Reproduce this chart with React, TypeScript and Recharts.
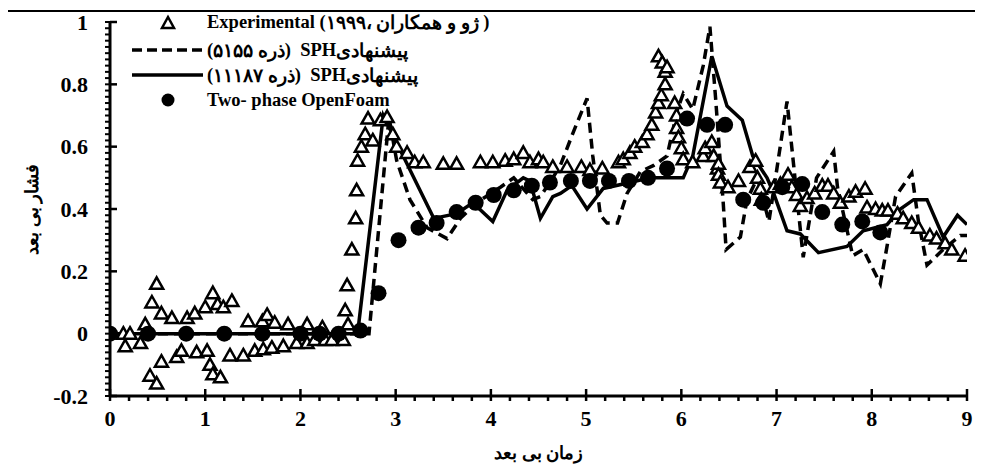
import React from 'react';
import { ComposedChart, Line, Scatter, XAxis, YAxis, Legend } from 'recharts';

const FONT = "'Liberation Serif', 'Times New Roman', serif";

// Axis tick labels
const xTickLabels = [0, 1, 2, 3, 4, 5, 6, 7, 8, 9];
const yTickLabels = [-0.2, 0, 0.2, 0.4, 0.6, 0.8, 1];
const X_MINOR = 0.2;
const Y_MINOR = 0.02;

const xTitle = 'زمان بی بعد';
const yTitle = 'فشار بی بعد';

// Legend labels, split into display pieces (left to right)
const legendLabels: string[][] = [
  ['Experimental', ' (', '۱۹۹۹', '،', ' ', 'ژو و همکاران', ' )'],
  ['(', '۵۱۵۵', ' ', 'ذره', ')', '  ', 'SPH', 'پیشنهادی'],
  ['(', '۱۱۱۸۷', ' ', 'ذره', ')', '  ', 'SPH', 'پیشنهادی'],
  ['Two- phase OpenFoam'],
];

// Experimental (triangles)
const expT = [
  0.14, 0.16, 0.21, 0.32, 0.37, 0.42, 0.44, 0.49, 0.49, 0.54, 0.54, 0.65, 0.70, 0.75, 0.81, 0.89, 0.91,
  1.00, 1.02, 1.05, 1.08, 1.08, 1.13, 1.16, 1.19, 1.26, 1.28, 1.40, 1.45, 1.52, 1.60, 1.61, 1.65, 1.70,
  1.73, 1.82, 1.87, 1.96, 2.07, 2.07, 2.15, 2.23, 2.26, 2.33, 2.45, 2.47, 2.49, 2.50, 2.54, 2.58, 2.59,
  2.60, 2.64, 2.68, 2.71, 2.76, 2.84, 2.91, 2.97, 3.01, 3.12, 3.20, 3.29, 3.50, 3.64, 3.89, 4.02, 4.15,
  4.24, 4.34, 4.41, 4.50, 4.55, 4.65, 4.80, 4.95, 5.04, 5.17, 5.34, 5.39, 5.46, 5.51, 5.59, 5.64, 5.69,
  5.73, 5.76, 5.76, 5.79, 5.80, 5.83, 5.83, 5.85, 5.93, 5.95, 5.95, 5.97, 6.00, 6.02, 6.12, 6.23, 6.25,
  6.32, 6.34, 6.38, 6.39, 6.39, 6.41, 6.49, 6.60, 6.72, 6.78, 6.80, 6.83, 6.84, 6.97, 7.04, 7.12, 7.16,
  7.21, 7.25, 7.32, 7.40, 7.48, 7.54, 7.60, 7.67, 7.76, 7.83, 7.93, 7.95, 8.04, 8.11, 8.17, 8.27, 8.33,
  8.42, 8.49, 8.61, 8.68, 8.77, 8.84, 8.98,
];
const expV = [
  0.0, -0.04, 0.0, -0.03, 0.03, -0.135, 0.10, 0.16, -0.16, 0.065, -0.09, 0.05, -0.075, -0.055, 0.05, 0.065, -0.06,
  0.085, -0.055, -0.10, 0.13, -0.13, 0.095, -0.14, 0.085, -0.07, 0.105, -0.07, 0.04, -0.055, 0.04, -0.05, 0.06, -0.045,
  0.035, -0.04, 0.03, -0.03, 0.03, -0.03, -0.02, 0.02, -0.02, -0.02, -0.02, 0.075, 0.155, 0.03, 0.27, 0.37, 0.46,
  0.555, 0.60, 0.64, 0.69, 0.62, 0.685, 0.695, 0.64, 0.60, 0.58, 0.55, 0.55, 0.545, 0.545, 0.55, 0.55, 0.555,
  0.56, 0.58, 0.55, 0.56, 0.55, 0.535, 0.535, 0.535, 0.525, 0.53, 0.55, 0.56, 0.58, 0.60, 0.615, 0.64, 0.67,
  0.71, 0.74, 0.89, 0.765, 0.87, 0.80, 0.84, 0.855, 0.74, 0.70, 0.66, 0.63, 0.595, 0.56, 0.55, 0.57, 0.595,
  0.615, 0.57, 0.53, 0.545, 0.51, 0.485, 0.47, 0.49, 0.535, 0.555, 0.50, 0.465, 0.43, 0.47, 0.48, 0.51, 0.47,
  0.445, 0.41, 0.435, 0.45, 0.475, 0.475, 0.45, 0.42, 0.44, 0.455, 0.465, 0.405, 0.40, 0.395, 0.395, 0.385, 0.37,
  0.355, 0.34, 0.315, 0.305, 0.29, 0.27, 0.25,
];

// Proposed SPH, 5155 particles (dashed)
const sph5155T = [
  0, 2.72, 2.93, 3.01, 3.15, 3.33, 3.54, 3.68, 3.85, 4.10, 4.24, 4.44, 4.52, 4.65, 4.73, 4.87, 5.01, 5.07,
  5.15, 5.22, 5.33, 5.43, 5.57, 5.71, 5.85, 5.96, 6.02, 6.12, 6.23, 6.30, 6.36, 6.44, 6.47, 6.62, 6.69, 6.80,
  6.92, 7.11, 7.28, 7.42, 7.60, 7.64, 7.80, 7.91, 8.09, 8.16, 8.25, 8.42, 8.49, 8.58, 8.75, 8.93, 9.0,
];
const sph5155V = [
  0, 0, 0.695, 0.556, 0.43, 0.34, 0.305, 0.37, 0.42, 0.47, 0.50, 0.43, 0.44, 0.50, 0.54, 0.65, 0.755, 0.57,
  0.38, 0.355, 0.355, 0.45, 0.52, 0.54, 0.57, 0.72, 0.77, 0.72, 0.86, 0.985, 0.755, 0.42, 0.27, 0.31, 0.43, 0.50,
  0.36, 0.745, 0.245, 0.50, 0.585, 0.47, 0.25, 0.27, 0.16, 0.28, 0.44, 0.515, 0.36, 0.22, 0.27, 0.315, 0.315,
];

// Proposed SPH, 11187 particles (solid)
const sph11187T = [
  0, 2.60, 2.87, 3.40, 3.64, 3.81, 4.02, 4.17, 4.34, 4.41, 4.52, 4.65, 4.73, 4.85, 5.01, 5.18, 5.46, 5.67,
  6.02, 6.12, 6.32, 6.48, 6.64, 6.75, 6.90, 6.97, 7.11, 7.25, 7.44, 7.74, 7.91, 8.16, 8.30, 8.44, 8.58, 8.75,
  8.90, 9.0,
];
const sph11187V = [
  0, 0, 0.70, 0.37, 0.385, 0.42, 0.36, 0.46, 0.50, 0.49, 0.37, 0.44, 0.45, 0.475, 0.40, 0.466, 0.485, 0.50,
  0.50, 0.57, 0.89, 0.73, 0.685, 0.57, 0.50, 0.45, 0.33, 0.32, 0.26, 0.28, 0.33, 0.35, 0.40, 0.43, 0.43, 0.31,
  0.38, 0.35,
];

// Two-phase OpenFoam (filled circles)
const foamT = [
  0, 0.4, 0.8, 1.2, 1.6, 2.0, 2.2, 2.4, 2.63, 2.82, 3.03, 3.24, 3.43, 3.64, 3.84, 4.03, 4.24, 4.43, 4.62,
  4.84, 5.04, 5.24, 5.45, 5.65, 5.85, 6.06, 6.27, 6.46, 6.65, 6.86, 7.06, 7.27, 7.48, 7.69, 7.90, 8.09,
];
const foamV = [
  0, 0, 0, 0, 0, 0, 0, 0, 0.01, 0.13, 0.30, 0.34, 0.355, 0.39, 0.42, 0.445, 0.46, 0.475, 0.485,
  0.49, 0.49, 0.49, 0.49, 0.50, 0.53, 0.69, 0.67, 0.67, 0.43, 0.42, 0.47, 0.48, 0.39, 0.35, 0.36, 0.325,
];

const toPoints = (ts: number[], vs: number[]) => ts.map((t, i) => ({ t, v: vs[i] }));
const expData = toPoints(expT, expV);
const sph5155Data = toPoints(sph5155T, sph5155V);
const sph11187Data = toPoints(sph11187T, sph11187V);
const foamData = toPoints(foamT, foamV);

const xTicks = Array.from({ length: Math.round(9 / X_MINOR) + 1 }, (_, i) => +(i * X_MINOR).toFixed(2));
const yTicks = Array.from({ length: Math.round(1.2 / Y_MINOR) + 1 }, (_, i) => +(-0.2 + i * Y_MINOR).toFixed(2));

const isMajor = (list: number[], v: number) => list.some((m) => Math.abs(m - v) < 1e-6);

const TICK_OUT = 5; // native outer tick length
const TICK_MARGIN = 2; // gap between tick end and label anchor
const TICK_FONT = 22;

// x, y here are the label anchor just outside the native tick line
const XTick = (props: any) => {
  const { x, y, payload } = props;
  const major = isMajor(xTickLabels, payload.value);
  const axisY = y - TICK_OUT - TICK_MARGIN;
  return (
    <g>
      {major && <line x1={x} x2={x} y1={axisY - 7} y2={axisY} stroke="#000" strokeWidth={2.5} />}
      {major && (
        <text x={x} y={axisY + 30} textAnchor="middle" fontFamily={FONT} fontWeight="bold" fontSize={TICK_FONT} fill="#000">
          {payload.value}
        </text>
      )}
    </g>
  );
};

const YTick = (props: any) => {
  const { x, y, payload } = props;
  const major = isMajor(yTickLabels, payload.value);
  const axisX = x + TICK_OUT + TICK_MARGIN;
  return (
    <g>
      {major && <line x1={axisX} x2={axisX + 7} y1={y} y2={y} stroke="#000" strokeWidth={2.5} />}
      {major && (
        <text x={axisX - 22} y={y} dy="0.35em" textAnchor="end" fontFamily={FONT} fontWeight="bold" fontSize={TICK_FONT} fill="#000">
          {payload.value}
        </text>
      )}
    </g>
  );
};

const XTitle = (props: any) => {
  const vb = props.viewBox;
  return (
    <text x={vb.x + vb.width / 2} y={vb.y + 63} textAnchor="middle" fontFamily={FONT} fontWeight="bold" fontSize={18} fill="#000">
      {xTitle}
    </text>
  );
};

const YTitle = (props: any) => {
  const vb = props.viewBox;
  const cx = vb.x + 24;
  const cy = vb.y + vb.height / 2;
  return (
    <text x={cx} y={cy} dy="0.35em" transform={`rotate(-90 ${cx} ${cy})`} textAnchor="middle" fontFamily={FONT} fontWeight="bold" fontSize={18} fill="#000">
      {yTitle}
    </text>
  );
};

const TriangleShape = (props: any) => {
  const { cx, cy } = props;
  if (cx == null || cy == null) return <g />;
  return (
    <path d={`M${cx},${cy - 6.5} L${cx + 6.5},${cy + 5} L${cx - 6.5},${cy + 5} Z`} fill="#fff" stroke="#000" strokeWidth={2.5} strokeLinejoin="miter" />
  );
};

const CircleShape = (props: any) => {
  const { cx, cy } = props;
  if (cx == null || cy == null) return <g />;
  return <circle cx={cx} cy={cy} r={8} fill="#000" />;
};

const LegendIcon = ({ kind }: { kind: number }) => (
  <svg width={73} height={26} style={{ display: 'block', flex: 'none' }}>
    {kind === 0 && <path d="M36,7 L42,18 L30,18 Z" fill="#fff" stroke="#000" strokeWidth={2.5} />}
    {kind === 1 && <line x1={0} x2={71} y1={12} y2={12} stroke="#000" strokeWidth={3.5} strokeDasharray="10 5" />}
    {kind === 2 && <line x1={0} x2={71} y1={12} y2={12} stroke="#000" strokeWidth={3.5} />}
    {kind === 3 && <circle cx={36} cy={13} r={6.5} fill="#000" />}
  </svg>
);

const legendRowCenters = [13, 41, 66, 90];

const LegendContent = () => (
  <div
    dir="ltr"
    style={{ position: 'relative', width: 420, height: 104, fontFamily: FONT, fontWeight: 'bold', fontSize: 18.5, color: '#000', whiteSpace: 'pre', direction: 'ltr' }}
  >
    {legendLabels.map((pieces, i) => (
      <div key={i} style={{ position: 'absolute', left: 0, top: legendRowCenters[i] - 13, display: 'flex', alignItems: 'center', height: 26 }}>
        <LegendIcon kind={i} />
        <div style={{ display: 'flex', marginLeft: 2 }}>
          {pieces.map((p, j) => (
            <span key={j} style={{ display: 'block' }}>{p}</span>
          ))}
        </div>
      </div>
    ))}
  </div>
);

export default function App() {
  return (
    <div style={{ position: 'relative', width: 975, height: 463 }}>
      <div
        style={{
          position: 'absolute',
          left: -2,
          top: 2,
          width: 972,
          height: 470,
          border: '2px solid #000',
          boxSizing: 'border-box',
          pointerEvents: 'none',
        }}
      />
      <ComposedChart width={975} height={463} margin={{ top: 14, right: 16, bottom: 0, left: 0 }}>
        <XAxis
          type="number"
          dataKey="t"
          domain={[0, 9]}
          ticks={xTicks}
          interval={0}
          allowDataOverflow
          tickLine={{ stroke: '#000', strokeWidth: 2.5 }}
          tickSize={TICK_OUT}
          tickMargin={TICK_MARGIN}
          tick={<XTick />}
          axisLine={{ stroke: '#000', strokeWidth: 3 }}
          height={75}
          label={<XTitle />}
        />
        <YAxis
          type="number"
          dataKey="v"
          domain={[-0.2, 1]}
          ticks={yTicks}
          interval={0}
          allowDataOverflow
          tickLine={{ stroke: '#000', strokeWidth: 2 }}
          tickSize={TICK_OUT}
          tickMargin={TICK_MARGIN}
          tick={<YTick />}
          axisLine={{ stroke: '#000', strokeWidth: 3 }}
          width={102}
          label={<YTitle />}
        />
        <Legend
          layout="vertical"
          align="center"
          verticalAlign="middle"
          content={<LegendContent />}
          wrapperStyle={{ left: 124, top: 2, width: 'auto', height: 'auto' }}
        />
        <Line data={sph5155Data} dataKey="v" type="linear" stroke="#000" strokeWidth={3.5} strokeDasharray="10 6" dot={false} isAnimationActive={false} legendType="none" />
        <Line data={sph11187Data} dataKey="v" type="linear" stroke="#000" strokeWidth={3.5} dot={false} isAnimationActive={false} legendType="none" />
        <Scatter data={expData} dataKey="v" shape={<TriangleShape />} isAnimationActive={false} legendType="none" />
        <Scatter data={foamData} dataKey="v" shape={<CircleShape />} isAnimationActive={false} legendType="none" />
      </ComposedChart>
    </div>
  );
}
